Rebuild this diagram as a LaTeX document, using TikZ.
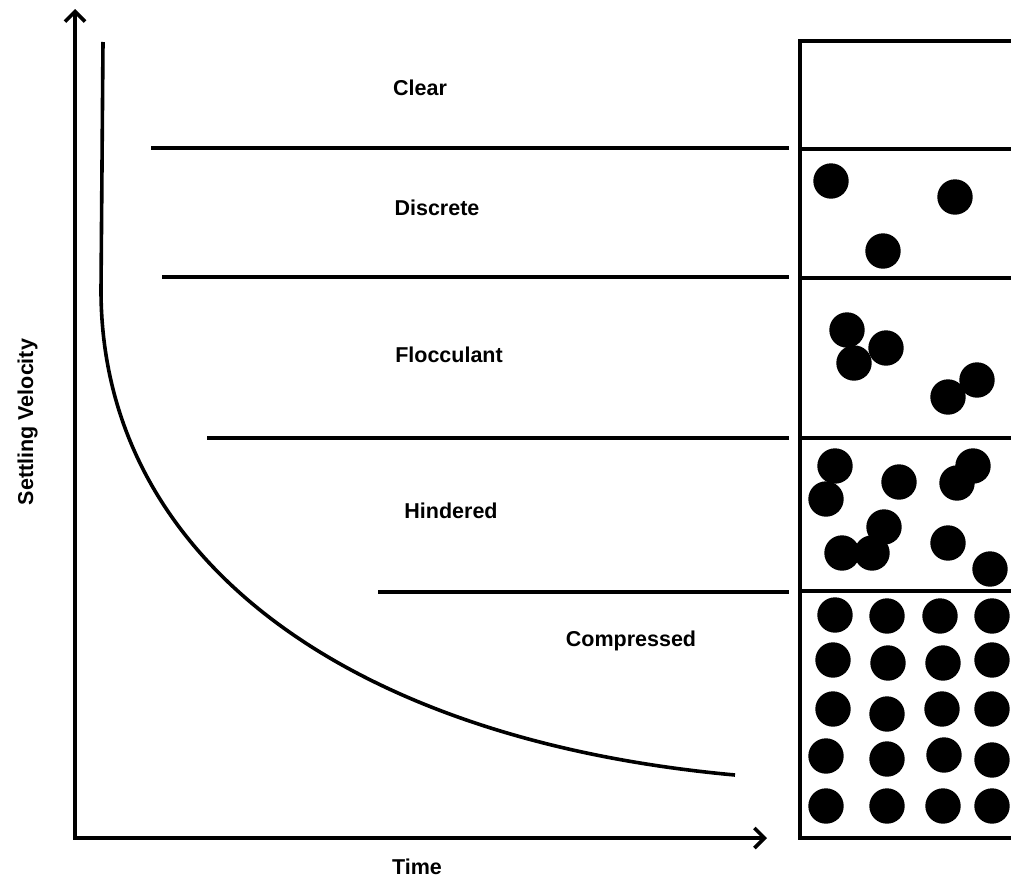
\documentclass[tikz,border=0pt]{standalone}
\usepackage{fontspec}
\setmainfont{Liberation Sans}
\usetikzlibrary{arrows.meta}
\begin{document}
\begin{tikzpicture}[x=1pt,y=-1pt,
  thick3/.style={line width=3.6pt},
  axisline/.style={line width=3.6pt,-{Straight Barb[length=10pt,width=20pt,line width=3.6pt]}},
  zonelabel/.style={anchor=base,inner sep=0pt,font=\fontsize{21.5}{24}\selectfont\bfseries},
  dot/.style={fill=black}]
\useasboundingbox (0,0) rectangle (1011,881);
\fill[white] (0,0) rectangle (1011,881);
% axes
\coordinate (origin) at (75,838);
\coordinate (ytop) at (75,9);
\coordinate (xend) at (767,838);
\draw[axisline] ([yshift=1.8pt]origin) -- (ytop);
\draw[axisline] ([xshift=-1.8pt]origin) -- (xend);
% curve
\draw[thick3,line join=round] (103,42) -- (101,290)
  .. controls (101,560) and (350,740) .. (735,775);
% zone boundary lines
\draw[thick3] (151,148) -- (789,148);
\draw[thick3] (162,277) -- (789,277);
\draw[thick3] (207,438) -- (789,438);
\draw[thick3] (378,592) -- (789,592);
% labels
\node[zonelabel] (clear) at (420,95) {Clear};
\node[zonelabel] (discrete) at (437,215) {Discrete};
\node[zonelabel] (floc) at (449,362) {Flocculant};
\node[zonelabel] (hind) at (451,518) {Hindered};
\node[zonelabel] (comp) at (631,646) {Compressed};
\node[zonelabel] (time) at (417,874) {Time};
\node[zonelabel,rotate=90] (vel) at (33,422) {Settling Velocity};
% column
\begin{scope}
\clip (790,0) rectangle (1011,881);
\draw[thick3] (1015,41) -- (800,41) -- (800,838) -- (1015,838);
\draw[thick3] (800,149) -- (1015,149);
\draw[thick3] (800,278) -- (1015,278);
\draw[thick3] (800,438) -- (1015,438);
\draw[thick3] (800,591) -- (1015,591);
% discrete
\foreach \p in {(831,181),(955,197),(883,251)} \fill[dot] \p circle (17.7);
% flocculant
\foreach \p in {(847,330),(886,348),(854,363),(977,380),(948,397)} \fill[dot] \p circle (17.7);
% hindered
\foreach \p in {(835,466),(826,499),(899,482),(973,466),(957,483),(884,527),(842,553),(872,553),(948,543),(990,569)} \fill[dot] \p circle (17.7);
% compressed
\foreach \p in {(835,615),(887,616),(940,616),(992,616),
                (833,660),(888,663),(943,663),(992,660),
                (833,709),(887,714),(942,709),(992,709),
                (826,756),(887,759),(944,755),(992,760),
                (826,806),(887,806),(943,806),(992,806)} \fill[dot] \p circle (17.7);
\end{scope}
\end{tikzpicture}
\end{document}
